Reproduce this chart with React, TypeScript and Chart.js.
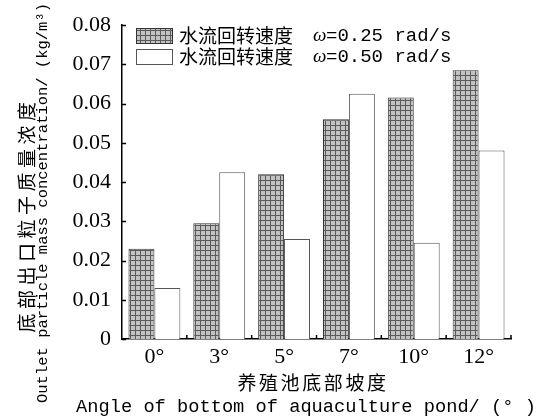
import { useEffect, useRef } from "react";
import { Chart, registerables } from "chart.js";

Chart.register(...registerables);

const categories = ["0°", "3°", "5°", "7°", "10°", "12°"];
const speed025 = [0.023, 0.0295, 0.042, 0.056, 0.0615, 0.0685];
const speed050 = [0.013, 0.0425, 0.0255, 0.0625, 0.0245, 0.048];
const seriesNames = ["水流回转速度", "水流回转速度"];
const seriesOmega = ["=0.25 rad/s", "=0.50 rad/s"];
const yTickValues = [0, 0.01, 0.02, 0.03, 0.04, 0.05, 0.06, 0.07, 0.08];
const yTitleCn = "底部出口粒子质量浓度";
const yTitleEn = "Outlet particle mass concentration/ (kg/m³)";
const xTitleCn = "养殖池底部坡度";
const xTitleEn = "Angle of bottom of aquaculture pond/ (° )";

function makePattern(): CanvasPattern | string {
  const c = document.createElement("canvas");
  c.width = 5;
  c.height = 5;
  const g = c.getContext("2d");
  if (!g) return "#bbb";
  g.fillStyle = "#c2c2c2";
  g.fillRect(0, 0, 5, 5);
  g.fillStyle = "#5a5a5a";
  g.fillRect(0, 0, 5, 1);
  g.fillRect(0, 0, 1, 5);
  return g.createPattern(c, "repeat") || "#bbb";
}

export default function App() {
  const ref = useRef<HTMLCanvasElement | null>(null);

  useEffect(() => {
    if (!ref.current) return;
    const pattern = makePattern();

    const decor = {
      id: "decor",
      afterDraw(chart: any) {
        const ctx: CanvasRenderingContext2D = chart.ctx;
        const { left, right, bottom } = chart.chartArea;
        const ys = chart.scales.y;
        const xs = chart.scales.x;
        ctx.save();
        ctx.strokeStyle = "#000";
        ctx.lineWidth = 1.5;
        // inward y ticks
        yTickValues.forEach((v) => {
          const y = Math.round(ys.getPixelForValue(v)) + 0.5;
          ctx.beginPath();
          ctx.moveTo(left, y);
          ctx.lineTo(left + 4, y);
          ctx.stroke();
        });
        // x boundary ticks
        const n = categories.length;
        for (let i = 1; i <= n; i++) {
          let x: number;
          if (i === n) x = right;
          else x = (xs.getPixelForValue(i - 1) + xs.getPixelForValue(i)) / 2;
          ctx.beginPath();
          ctx.moveTo(x, bottom);
          ctx.lineTo(x, bottom - 4);
          ctx.stroke();
        }
        // legend
        const fills = [pattern, "#ffffff"];
        const borders = ["#333", "#555"];
        const rowY = [28, 49];
        for (let i = 0; i < 2; i++) {
          ctx.fillStyle = fills[i] as any;
          ctx.fillRect(136, rowY[i], 36, 15);
          ctx.strokeStyle = borders[i];
          ctx.lineWidth = 1;
          ctx.strokeRect(136.5, rowY[i] + 0.5, 36, 15);
          ctx.fillStyle = "#000";
          ctx.textBaseline = "middle";
          ctx.textAlign = "left";
          ctx.font = '19px "Noto Sans CJK SC"';
          ctx.fillText(seriesNames[i], 179, rowY[i] + 7.5);
          ctx.font = 'italic 19px "Liberation Serif"';
          ctx.fillText("ω", 313, rowY[i] + 7.5);
          ctx.font = '19px "Liberation Mono"';
          ctx.fillText(seriesOmega[i], 326, rowY[i] + 7.5);
        }
        // x titles
        ctx.textAlign = "center";
        ctx.textBaseline = "middle";
        ctx.fillStyle = "#000";
        (ctx as any).letterSpacing = "2.6px";
        ctx.font = '19px "Noto Sans CJK SC"';
        ctx.fillText(xTitleCn, 313, 383);
        (ctx as any).letterSpacing = "0px";
        ctx.font = '18.7px "Liberation Mono"';
        ctx.fillText(xTitleEn, 306, 407);
        // y titles
        ctx.save();
        ctx.translate(27, 217);
        ctx.rotate(-Math.PI / 2);
        (ctx as any).letterSpacing = "4.5px";
        ctx.font = '19px "Noto Sans CJK SC"';
        ctx.fillText(yTitleCn, 2, 0);
        ctx.restore();
        ctx.save();
        ctx.translate(43, 203);
        ctx.rotate(-Math.PI / 2);
        (ctx as any).letterSpacing = "0px";
        ctx.font = '15.5px "Liberation Mono"';
        ctx.fillText(yTitleEn, 0, 0);
        ctx.restore();
        ctx.restore();
      },
    };

    const tickFont = { family: '"Liberation Serif"', size: 22 };

    const chart = new Chart(ref.current, {
      type: "bar",
      data: {
        labels: categories,
        datasets: [
          {
            label: seriesNames[0] + " ω" + seriesOmega[0],
            data: speed025,
            backgroundColor: pattern as any,
            borderColor: "#333",
            borderWidth: 1,
            categoryPercentage: 0.8,
            barPercentage: 1.0,
          },
          {
            label: seriesNames[1] + " ω" + seriesOmega[1],
            data: speed050,
            backgroundColor: "#ffffff",
            borderColor: "#555",
            borderWidth: 1,
            categoryPercentage: 0.8,
            barPercentage: 1.0,
          },
        ],
      },
      options: {
        responsive: false,
        animation: false,
        layout: { padding: { top: 25, right: 28, left: 0, bottom: 0 } },
        plugins: {
          legend: { display: false },
          tooltip: { enabled: false },
          title: { display: false },
        },
        scales: {
          x: {
            grid: { display: false, drawTicks: false },
            border: { display: true, color: "#000", width: 1.5 },
            ticks: { font: tickFont, color: "#000", padding: 5 },
            afterFit: (s: any) => {
              s.height = 81;
            },
          },
          y: {
            min: 0,
            max: 0.08,
            grid: { display: false, drawTicks: false },
            border: { display: true, color: "#000", width: 1.5 },
            ticks: {
              stepSize: 0.01,
              font: tickFont,
              color: "#000",
              padding: 11,
              callback: (v: any) => (Number(v) === 0 ? "0" : Number(v).toFixed(2)),
            },
            afterFit: (s: any) => {
              s.width = 122;
            },
          },
        },
      },
      plugins: [decor],
    });
    return () => chart.destroy();
  }, []);

  return (
    <div style={{ position: "absolute", left: 0, top: 0, width: 539, height: 420, background: "#fff" }}>
      <canvas ref={ref} width={539} height={420} style={{ display: "block" }} />
    </div>
  );
}
